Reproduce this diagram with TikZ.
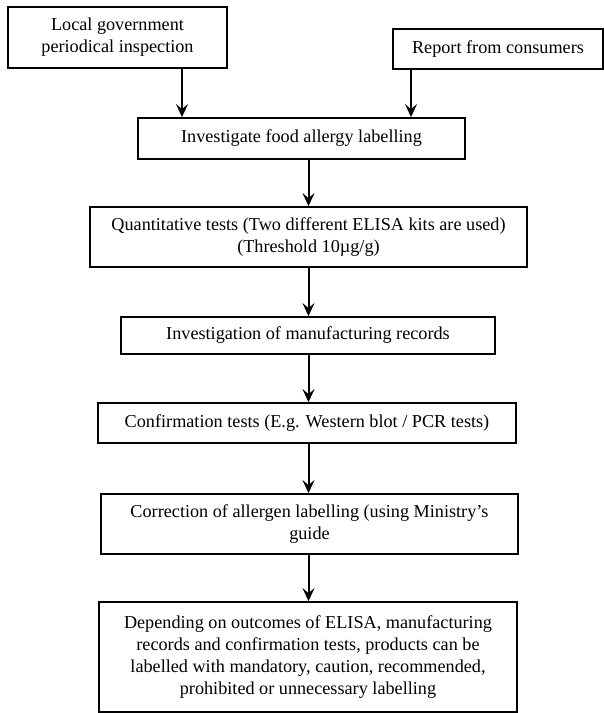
\documentclass[tikz,border=0pt]{standalone}
\usepackage{fontspec}
\setmainfont{Liberation Serif}
\usetikzlibrary{arrows.meta}
\begin{document}
\begin{tikzpicture}[x=1pt,y=-1pt,
  box/.style={draw, line width=1.8pt, align=center, inner sep=0pt,
    font=\fontsize{18.2}{22}\selectfont},
  arr/.style={line width=2pt, -{Stealth[length=13pt,width=12pt,inset=5pt]}}]
\useasboundingbox (0,0) rectangle (604,713);
\node[box, minimum width=219pt, minimum height=61pt] (b1) at (117.5,37.5) {Local government\\periodical inspection};
\node[box, minimum width=210pt, minimum height=40pt] (b2) at (498,49) {Report from consumers};
\node[box, minimum width=327pt, minimum height=41pt] (b3) at (301.5,138.5) {Investigate food allergy labelling};
\node[box, minimum width=437pt, minimum height=60pt] (b4) at (308.5,237) {Quantitative tests (Two different ELISA kits are used)\\(Threshold 10µg/g)};
\node[box, minimum width=374pt, minimum height=37pt] (b5) at (308,335.5) {Investigation of manufacturing records};
\node[box, minimum width=418pt, minimum height=40pt] (b6) at (307,423) {Confirmation tests (E.g. Western blot / PCR tests)};
\node[box, minimum width=417pt, minimum height=60pt] (b7) at (309.5,524) {Correction of allergen labelling (using Ministry’s\\guide};
\node[box, minimum width=418pt, minimum height=110pt] (b8) at (308,657) {Depending on outcomes of ELISA, manufacturing\\records and confirmation tests, products can be\\labelled with mandatory, caution, recommended,\\prohibited or unnecessary labelling};
\coordinate (xl) at (182,0);
\coordinate (xr) at (411,0);
\coordinate (xm) at (308.5,0);
\draw[arr] (b1.south -| xl) -- (b3.north -| xl);
\draw[arr] (b2.south -| xr) -- (b3.north -| xr);
\draw[arr] (b3.south -| xm) -- (b4.north -| xm);
\draw[arr] (b4.south -| xm) -- (b5.north -| xm);
\draw[arr] (b5.south -| xm) -- (b6.north -| xm);
\draw[arr] (b6.south -| xm) -- (b7.north -| xm);
\draw[arr] (b7.south -| xm) -- (b8.north -| xm);
\end{tikzpicture}
\end{document}
